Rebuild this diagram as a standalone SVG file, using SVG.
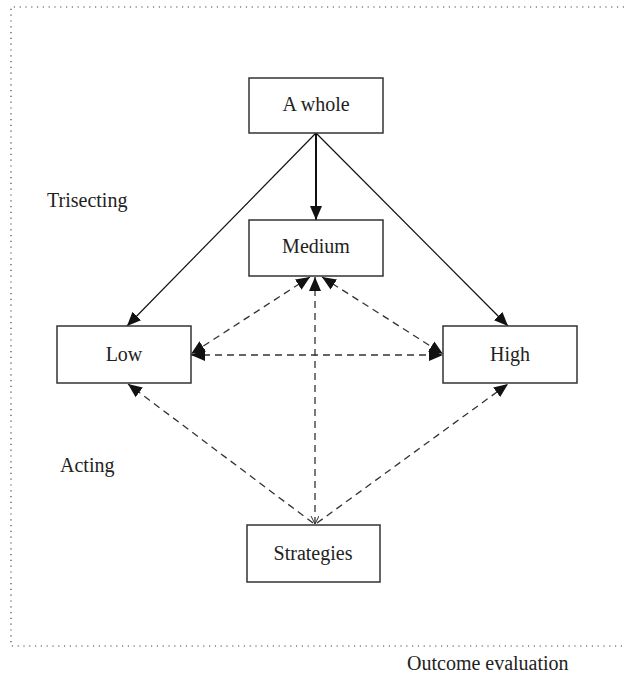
<svg xmlns="http://www.w3.org/2000/svg" width="624" height="686" viewBox="0 0 624 686">
<style>
.box{fill:#fff;stroke:#333;stroke-width:1.5}
.lbl{font-family:"Liberation Serif","Times New Roman",serif;font-size:20px;fill:#222;text-anchor:middle}
.side{font-family:"Liberation Serif","Times New Roman",serif;font-size:20px;fill:#222}
.solid{fill:none;stroke:#111;stroke-width:1.2}
.dash{fill:none;stroke:#333;stroke-width:1.3;stroke-dasharray:7 5}
.frame{fill:none;stroke:#444;stroke-width:1.2;stroke-dasharray:1.2 4.6}
</style>
<defs>
<marker id="ah" markerUnits="userSpaceOnUse" markerWidth="16" markerHeight="13" refX="14" refY="6" orient="auto-start-reverse" viewBox="0 0 16 13">
<path d="M0 0 L14 6 L0 12 Z" fill="#111"/>
</marker>
<marker id="open" markerUnits="userSpaceOnUse" markerWidth="10" markerHeight="10" refX="8" refY="4" orient="auto-start-reverse" viewBox="0 0 10 10">
<path d="M0 0 L8 4 L0 8" fill="none" stroke="#333" stroke-width="1"/>
</marker>
</defs>
<path class="frame" d="M624 7 H11 V646 H624"/>
<g id="connectors">
<path class="solid" d="M316 133 V220" marker-end="url(#ah)" style="stroke-width:2"/>
<path class="solid" d="M316 133 L127 326" marker-end="url(#ah)"/>
<path class="solid" d="M316 133 L508 326" marker-end="url(#ah)"/>
<path class="dash" d="M191 355 H443" marker-start="url(#ah)" marker-end="url(#ah)"/>
<path class="dash" d="M310 277 L191 354" marker-start="url(#ah)" marker-end="url(#ah)"/>
<path class="dash" d="M322 277 L443 354" marker-start="url(#ah)" marker-end="url(#ah)"/>
<path class="dash" d="M315 524 V277" marker-start="url(#open)" marker-end="url(#ah)"/>
<path class="dash" d="M313 523 L128 384" marker-end="url(#ah)"/>
<path class="dash" d="M317 523 L508 384" marker-end="url(#ah)"/>
</g>
<g id="n-whole"><rect class="box" x="249" y="78" width="134" height="55"/><text class="lbl" x="316" y="111">A whole</text></g>
<g id="n-medium"><rect class="box" x="249" y="220" width="134" height="56"/><text class="lbl" x="316" y="253">Medium</text></g>
<g id="n-low"><rect class="box" x="57" y="326" width="134" height="57"/><text class="lbl" x="124" y="361">Low</text></g>
<g id="n-high"><rect class="box" x="443" y="326" width="134" height="57"/><text class="lbl" x="510" y="361">High</text></g>
<g id="n-strategies"><rect class="box" x="247" y="525" width="133" height="57"/><text class="lbl" x="313" y="560">Strategies</text></g>
<g id="labels">
<text class="side" x="47" y="207">Trisecting</text>
<text class="side" x="60" y="472">Acting</text>
<text class="side" x="407" y="670">Outcome evaluation</text>
</g>
</svg>
